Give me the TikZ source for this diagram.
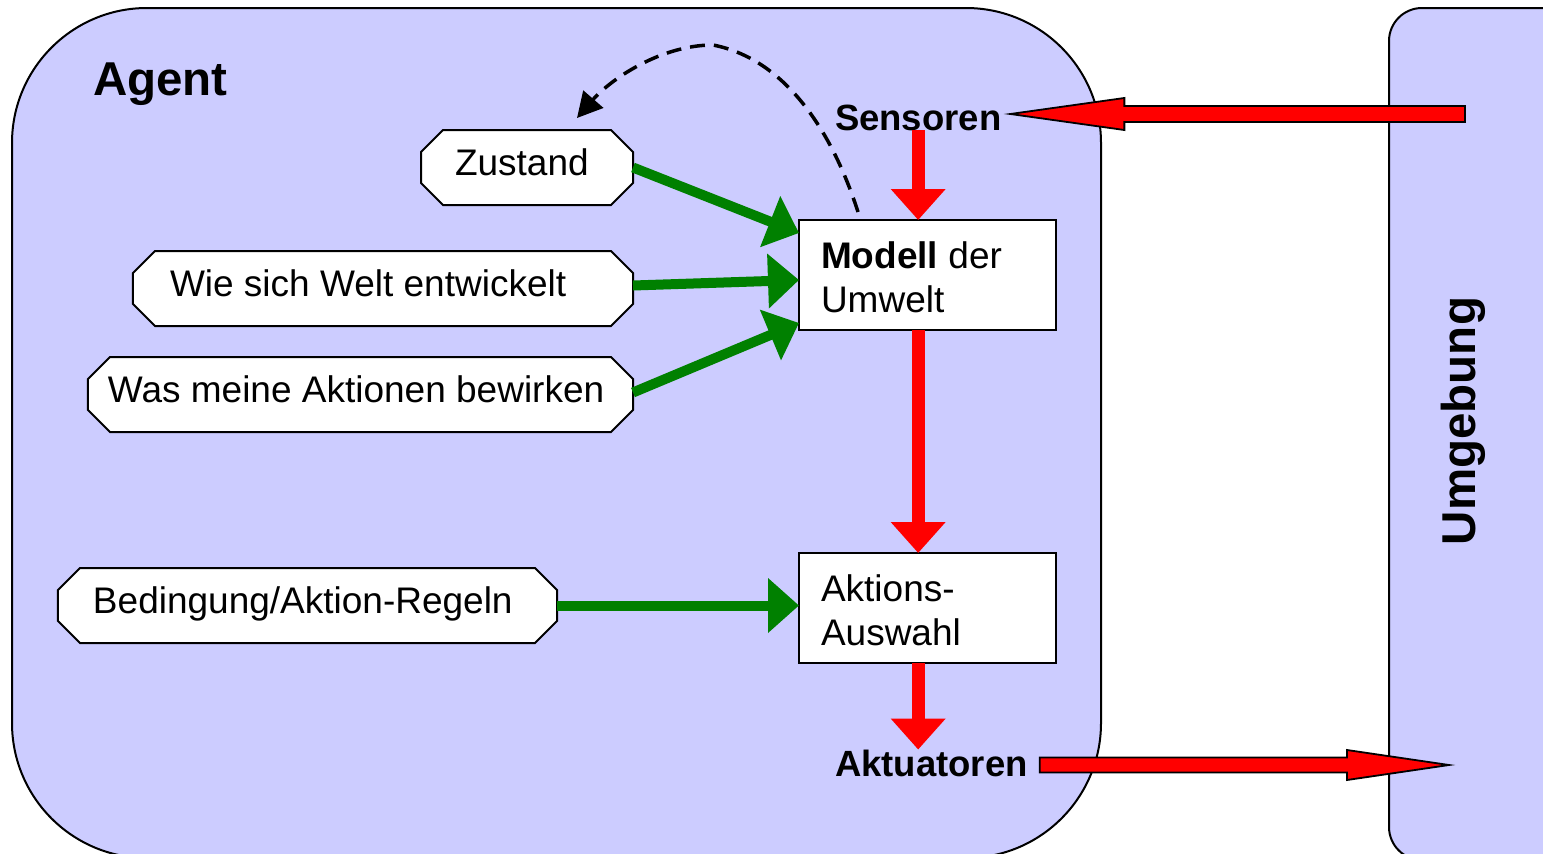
\documentclass[tikz,border=0pt]{standalone}
\usepackage{fontspec}
\setmainfont{Liberation Sans}
\usetikzlibrary{arrows.meta,calc}
\pgfdeclarelayer{back}
\pgfdeclarelayer{mid}
\pgfsetlayers{back,mid,main}

\definecolor{panelblue}{RGB}{204,204,255}
\definecolor{arrowred}{RGB}{255,0,0}
\definecolor{leafgreen}{RGB}{0,128,0}

% octagonal frame around a knowledge node (corners cut by 22bp)
\newcommand\octframe[1]{%
  \path[octline] ([xshift=22bp]#1.north west) -- ([xshift=-22bp]#1.north east)
    -- ([yshift=-22bp]#1.north east) -- ([yshift=22bp]#1.south east)
    -- ([xshift=-22bp]#1.south east) -- ([xshift=22bp]#1.south west)
    -- ([yshift=22bp]#1.south west) -- ([yshift=-22bp]#1.north west) -- cycle;}

\begin{document}
\begin{tikzpicture}[x=1bp,y=-1bp,
  panel/.style={draw=black, fill=panelblue, line width=2bp},
  bodytext/.style={font=\fontsize{37bp}{44bp}\selectfont},
  labeltext/.style={font=\fontsize{36.5bp}{44bp}\selectfont\bfseries, inner sep=0pt, outer sep=0pt},
  titletext/.style={font=\fontsize{47.5bp}{56bp}\selectfont\bfseries, inner sep=0pt, outer sep=0pt},
  knowledge/.style={bodytext, draw=none, minimum height=75bp, inner ysep=0pt, outer sep=0pt,
    align=flush left, text height=26.5bp, text depth=11.5bp},
  octline/.style={draw=black, fill=white, line width=2bp},
  procbox/.style={bodytext, draw=black, fill=white, line width=2bp, outer sep=0pt,
    minimum width=257bp, minimum height=110bp, inner xsep=22bp, inner ysep=0pt,
    text width=213bp, align=flush left, text height=27bp, text depth=41bp},
  redflow/.style={draw=arrowred, line width=13bp, -{Triangle[length=31bp,width=53bp]}},
  greenflow/.style={draw=leafgreen, line width=10bp, -{Triangle[length=31bp,width=53bp]}},
  dashflow/.style={draw=black, line width=3.5bp, dash pattern=on 15bp off 9bp,
    -{Triangle[length=25bp,width=26bp]}},
  blockarr/.style={draw=black, fill=arrowred, line width=1.8bp, line join=miter}
]
\useasboundingbox (0,0) rectangle (1543,853);

% agent and environment panels
\begin{pgfonlayer}{back}
  \fill[white] (0,0) rectangle (1543,853);
  \draw[panel, rounded corners=135bp] (12,8) rectangle (1101,858);
  \draw[panel, rounded corners=33bp] (1389,8) rectangle (1580,860);
\end{pgfonlayer}

\node[titletext, anchor=base west] (agent) at (93,95) {Agent};
\node[titletext, rotate=90] (umg) at (1463,421) {Umgebung};

% knowledge sources
\node[knowledge, inner xsep=34bp, text width=144bp] (zust) at (527,167.5) {Zustand};
\node[knowledge, inner xsep=37bp, text width=426bp] (wie) at (383,288.5) {Wie sich Welt entwickelt};
\node[knowledge, inner xsep=20bp, text width=505bp] (was) at (360.5,394.5) {Was meine Aktionen bewirken};
\node[knowledge, inner xsep=35bp, text width=429bp] (bed) at (307.5,605.5) {Bedingung/Aktion-Regeln};
\begin{pgfonlayer}{mid}
  \foreach \n in {zust,wie,was,bed} {\octframe{\n}}
\end{pgfonlayer}

% processing boxes
\node[procbox] (modell) at (927.5,275) {\textbf{Modell} der\\Umwelt};
\node[procbox] (aktions) at (927.5,608) {Aktions-\\Auswahl};

% sensor and actuator labels
\node[labeltext, anchor=base west] (sens) at (835,130) {Sensoren};
\node[labeltext, anchor=base west] (akt) at (835,776) {Aktuatoren};

% internal flow
\draw[redflow] (sens.south) -- (sens.south |- modell.north);
\draw[redflow] (modell.south -| sens.south) -- (aktions.north -| sens.south);
\draw[redflow] (aktions.south -| sens.south) -- (akt.north -| sens.south);

\draw[greenflow] (zust.east) -- ($(modell.north west)+(0,13)$);
\draw[greenflow] ($(wie.east)+(0,-3)$) -- ($(modell.west)+(0,5)$);
\draw[greenflow] ($(was.east)+(0,-2)$) -- ($(modell.south west)+(0,-7)$);
\draw[greenflow] (bed.east) -- (bed.east -| aktions.west);

% state update feedback
\draw[dashflow] ($(modell.north west)+(59,-8)$) .. controls (835,140) and (790,60) .. (713,45)
  .. controls (660,45) and (610,80) .. ($(zust.north west)+(156,-12)$);

% exchange with the environment
\coordinate (umgSens) at (1465,114);
\coordinate (umgAkt) at (1449,765);
\path[blockarr] let \p1=(umgSens), \p2=(sens.east) in
  (\x1,\y1+8bp) -- (\x2+123bp,\y1+8bp) -- (\x2+123bp,\y1+16bp) -- (\x2+9bp,\y1)
  -- (\x2+123bp,\y1-16bp) -- (\x2+123bp,\y1-8bp) -- (\x1,\y1-8bp) -- cycle;
\path[blockarr] let \p1=(akt.east), \p2=(umgAkt) in
  (\x1+12bp,\y2+7.5bp) -- (\x2-102bp,\y2+7.5bp) -- (\x2-102bp,\y2+15bp) -- (\x2,\y2)
  -- (\x2-102bp,\y2-15bp) -- (\x2-102bp,\y2-7.5bp) -- (\x1+12bp,\y2-7.5bp) -- cycle;
\end{tikzpicture}
\end{document}
